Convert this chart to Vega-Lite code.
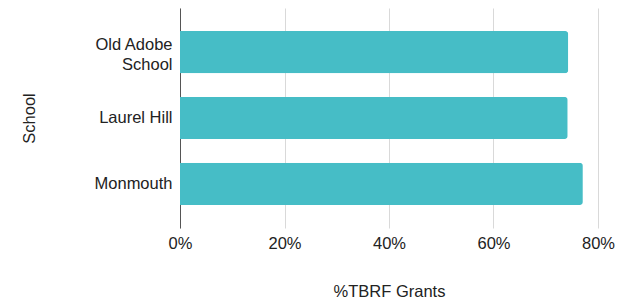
{
  "$schema": "https://vega.github.io/schema/vega-lite/v6.json",
  "width": 418,
  "height": 220,
  "autosize": "none",
  "padding": {"left": 180, "top": 8, "right": 38, "bottom": 71},
  "background": "white",
  "config": {
    "view": {"stroke": null},
    "font": "Liberation Sans",
    "axis": {"labelFont": "Liberation Sans", "titleFont": "Liberation Sans", "labelColor": "#222222", "titleColor": "#222222", "titleFontWeight": "normal", "labelFontSize": 16.5, "titleFontSize": 16.5}
  },
  "data": {
    "values": [
      {"School": "Old Adobe School", "pct": 0.743},
      {"School": "Laurel Hill", "pct": 0.742},
      {"School": "Monmouth", "pct": 0.771}
    ]
  },
  "mark": {"type": "bar", "color": "#46BDC6", "cornerRadiusEnd": 3},
  "encoding": {
    "y": {
      "field": "School",
      "type": "nominal",
      "sort": null,
      "scale": {"paddingInner": 0.36, "paddingOuter": 0.35},
      "axis": {
        "title": "School",
        "ticks": false,
        "domain": true,
        "domainColor": "#555555",
        "labelPadding": 8,
        "titlePadding": 57,
        "labelExpr": "datum.label == 'Old Adobe School' ? ['Old Adobe', 'School'] : datum.label",
        "labelLineHeight": 20,
        "labelOffset": {"condition": {"test": "datum.value == 'Old Adobe School'", "value": -7}, "value": 0}
      }
    },
    "x": {
      "field": "pct",
      "type": "quantitative",
      "scale": {"domain": [0, 0.8], "nice": false},
      "axis": {
        "title": "%TBRF Grants",
        "format": ".0%",
        "values": [0, 0.2, 0.4, 0.6, 0.8],
        "ticks": false,
        "domain": false,
        "labelFlush": false,
        "gridColor": "#d9d9d9",
        "labelPadding": 7,
        "titlePadding": 32
      }
    }
  }
}
